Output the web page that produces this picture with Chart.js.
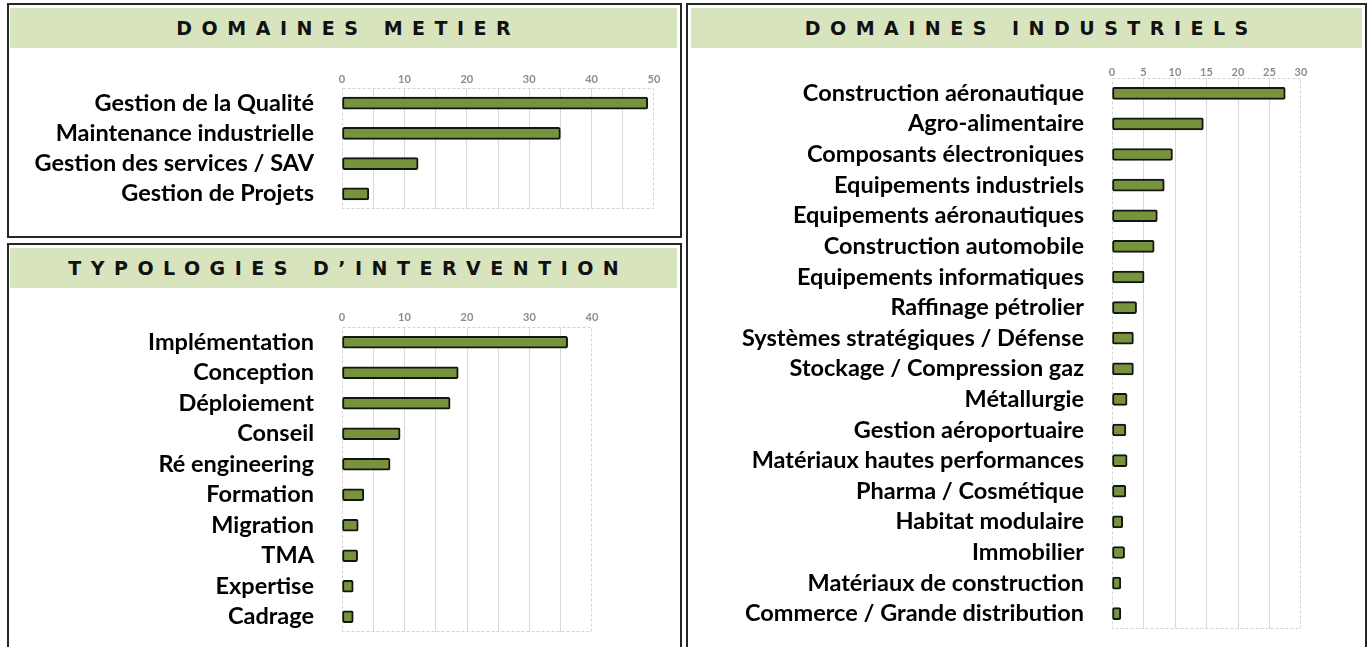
<!DOCTYPE html>
<html>
<head>
<meta charset="utf-8">
<script src="https://cdn.jsdelivr.net/npm/chart.js@4.4.1/dist/chart.umd.min.js"></script>
<style>
  body { margin: 0; width: 1369px; height: 647px; overflow: hidden; background: #fff; position: relative; }
  .panel { position: absolute; border: 2px solid #262626; box-sizing: border-box; }
  .band {
    position: absolute; height: 40px; background: #d7e4bd;
    display: flex; align-items: center; justify-content: center;
    font-family: "DejaVu Sans", sans-serif; font-weight: bold; font-size: 19px;
    letter-spacing: 9.5px; padding-left: 9.5px; box-sizing: border-box; color: #111;
  }
  canvas { position: absolute; }
</style>
</head>
<body>
<div class="panel" style="left:7px;top:3px;width:675px;height:235px"></div>
<div class="panel" style="left:7px;top:243px;width:675px;height:420px"></div>
<div class="panel" style="left:686px;top:3px;width:681px;height:660px"></div>

<div class="band" style="left:10px;top:8px;width:667px">DOMAINES METIER</div>
<div class="band" style="left:10px;top:248px;width:667px">TYPOLOGIES D’INTERVENTION</div>
<div class="band" style="left:691px;top:8px;width:671px">DOMAINES INDUSTRIELS</div>

<canvas id="metier" width="650" height="150" style="left:20px;top:60px"></canvas>
<canvas id="typo" width="650" height="336" style="left:20px;top:298px"></canvas>
<canvas id="indus" width="660" height="582" style="left:700px;top:52px"></canvas>

<script>
const metierLabels = ["Gestion de la Qualité", "Maintenance industrielle", "Gestion des services / SAV", "Gestion de Projets"];
const metierValues = [49, 35, 12.2, 4.3];

const typoLabels = ["Implémentation", "Conception", "Déploiement", "Conseil", "Ré engineering",
  "Formation", "Migration", "TMA", "Expertise", "Cadrage"];
const typoValues = [36.1, 18.6, 17.3, 9.3, 7.7, 3.5, 2.6, 2.5, 1.8, 1.8];

const indusLabels = ["Construction aéronautique", "Agro-alimentaire", "Composants électroniques",
  "Equipements industriels", "Equipements aéronautiques", "Construction automobile",
  "Equipements informatiques", "Raffinage pétrolier", "Systèmes stratégiques / Défense",
  "Stockage / Compression gaz", "Métallurgie", "Gestion aéroportuaire",
  "Matériaux hautes performances", "Pharma / Cosmétique", "Habitat modulaire",
  "Immobilier", "Matériaux de construction", "Commerce / Grande distribution"];
const indusValues = [27.5, 14.5, 9.6, 8.3, 7.2, 6.7, 5.1, 3.9, 3.4, 3.4, 2.4, 2.2, 2.4, 2.2, 1.7, 2.0, 1.4, 1.4];

// dashed frame around the plot area, like the Excel chart
const plotFrame = {
  id: "plotFrame",
  beforeDatasetsDraw(chart) {
    const a = chart.chartArea;
    const ctx = chart.ctx;
    ctx.save();
    ctx.strokeStyle = "#d4d4d4";
    ctx.lineWidth = 1;
    ctx.setLineDash([3, 2]);
    ctx.strokeRect(a.left + 0.5, a.top + 0.5, a.width - 1, a.height - 1);
    ctx.restore();
  }
};

function makeChart(id, labels, values, max, labelEvery, axisW, axisH, padRight, padBottom, tickPad) {
  return new Chart(document.getElementById(id), {
    type: "bar",
    data: {
      labels: labels,
      datasets: [{
        data: values,
        backgroundColor: "#77933c",
        borderColor: "#141414",
        borderWidth: 2,
        borderRadius: 2,
        borderSkipped: false,
        barThickness: 12
      }]
    },
    options: {
      indexAxis: "y",
      responsive: false,
      animation: false,
      layout: { padding: { top: 0, right: padRight, bottom: padBottom, left: 0 } },
      plugins: { legend: { display: false }, tooltip: { enabled: false } },
      scales: {
        x: {
          position: "top",
          min: 0,
          max: max,
          afterFit: (s) => { s.height = axisH; },
          ticks: {
            stepSize: 5,
            autoSkip: false,
            maxRotation: 0,
            padding: tickPad,
            color: "#8c8c8c",
            font: { family: "Lato", size: 11, weight: "bold" },
            callback: (v) => (v % labelEvery === 0 ? v : "")
          },
          grid: {
            drawTicks: false,
            lineWidth: 1,
            color: (c) => (c.tick && (c.tick.value === 0 || c.tick.value === max)) ? "rgba(0,0,0,0)" : "#d9d9d9"
          },
          border: { display: false }
        },
        y: {
          afterFit: (s) => {
            s.width = axisW;
            s.paddingTop = 0;
            s.paddingBottom = 0;
          },
          grid: { display: false, drawTicks: false },
          border: { display: false },
          ticks: {
            autoSkip: false,
            padding: 28,
            color: "#000",
            font: { family: "Lato", size: 23.5, weight: "bold" }
          }
        }
      }
    },
    plugins: [plotFrame]
  });
}

makeChart("metier", metierLabels, metierValues, 50, 10, 322, 28, 16, 1, 2);
makeChart("typo", typoLabels, typoValues, 40, 10, 322, 29, 78, 2, 3);
makeChart("indus", indusLabels, indusValues, 30, 5, 412, 26, 59, 5, -1);
</script>
</body>
</html>
